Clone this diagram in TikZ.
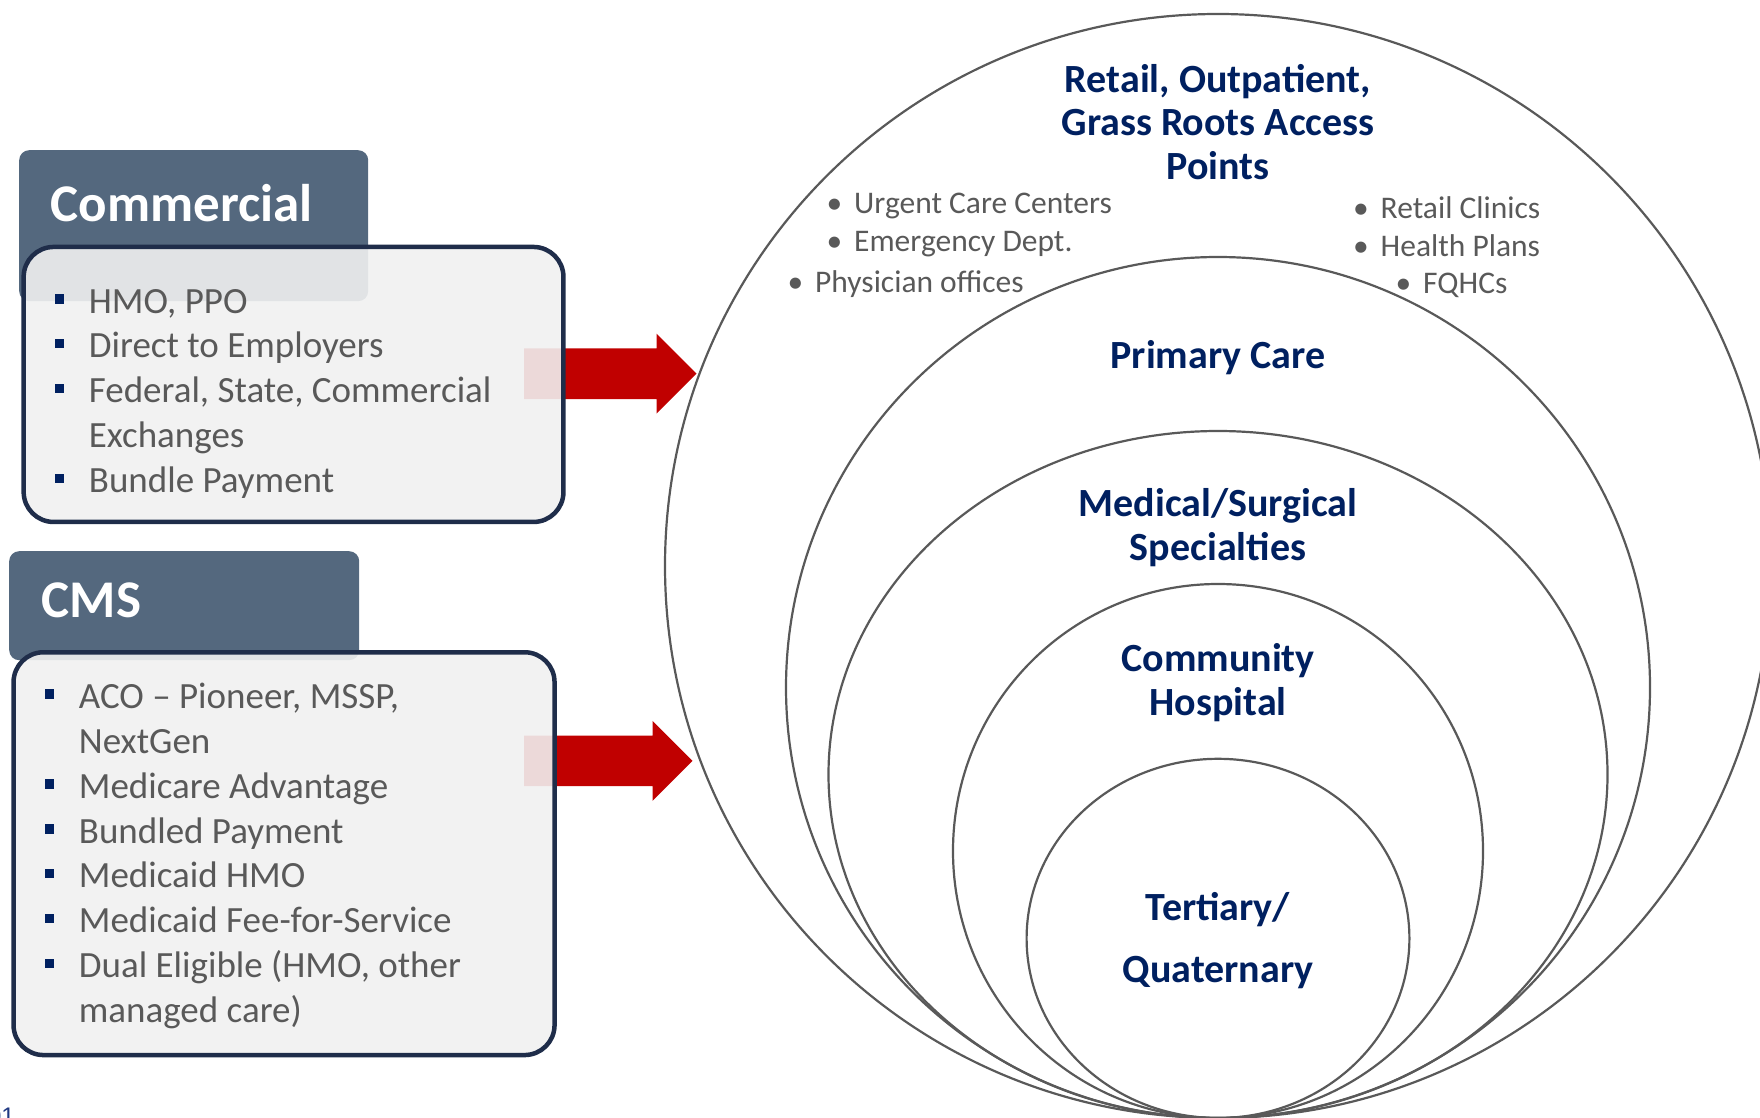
\documentclass[tikz,border=0pt]{standalone}
\usepackage{fontspec}
\setmainfont{Carlito}
\newfontfamily\arialfont{Liberation Sans}
\usetikzlibrary{calc}
\definecolor{tabblue}{RGB}{84,104,126}
\definecolor{boxline}{RGB}{31,45,74}
\definecolor{boxfill}{RGB}{241,241,241}
\definecolor{bodygray}{RGB}{89,89,89}
\definecolor{navy}{RGB}{0,32,96}
\definecolor{arrowred}{RGB}{192,0,0}
\definecolor{ringgray}{RGB}{89,89,89}
\definecolor{pageblue}{RGB}{31,56,130}

\newcommand\sqbul{\makebox[34pt][l]{\textcolor{navy}{\rule[9.5pt]{9.5pt}{9.5pt}}}}
\newcommand\rdot{\llap{\textbullet\hspace{12pt}}}
\newcommand\bigarrow[2]{%
  \fill[arrowred] ($(#1)+(0,-25.3)$) -- ($(#2)+(-40,-25.3)$) -- ($(#2)+(-40,-40)$) -- (#2)
    -- ($(#2)+(-40,40)$) -- ($(#2)+(-40,25.3)$) -- ($(#1)+(0,25.3)$) -- cycle;}

\tikzset{
  tabbox/.style={fill=tabblue, rounded corners=10pt, inner sep=0pt, anchor=north west},
  listbox/.style={draw=boxline, line width=4.5pt, fill=boxfill, fill opacity=0.9, rounded corners=30pt, inner sep=0pt, anchor=north west},
  tabtitle/.style={anchor=base west, inner sep=0pt, text=white, font=\fontsize{53}{58}\selectfont\bfseries},
  listline/.style={anchor=base west, inner sep=0pt, text=bodygray, font=\fontsize{37}{44}\selectfont},
  ring/.style={draw=ringgray, line width=2.2pt},
  levellabel/.style={anchor=base, inner sep=0pt, text=navy, font=\fontsize{40}{43}\selectfont\bfseries},
  pointline/.style={anchor=base west, inner sep=0pt, text=bodygray, font=\fontsize{31.5}{36}\selectfont},
}

\begin{document}
\begin{tikzpicture}[x=1pt,y=-1pt]
\useasboundingbox (0,0) rectangle (1760,1118);
\clip (0,0) rectangle (1760,1118);

% nested care levels
\draw[ring] (1218,566) ellipse [x radius=553pt, y radius=552pt];
\draw[ring] (1218,687.5) ellipse [x radius=432pt, y radius=430.5pt];
\draw[ring] (1218,774.5) ellipse [x radius=389.5pt, y radius=343.5pt];
\draw[ring] (1218,851) ellipse [x radius=265pt, y radius=267pt];
\draw[ring] (1218,938.4) ellipse [x radius=191.4pt, y radius=179.6pt];

% tabs
\node[tabbox, minimum width=349pt, minimum height=151pt] (comtab) at (19,150) {};
\node[tabbox, minimum width=350pt, minimum height=109pt] (cmstab) at (9,551) {};

% arrows
\coordinate (a1s) at (524,373.7);
\coordinate (a1t) at (696.5,373.7);
\coordinate (a2s) at (524,760.8);
\coordinate (a2t) at (692.5,760.8);
\bigarrow{a1s}{a1t}
\bigarrow{a2s}{a2t}

% boxes
\node[listbox, minimum width=539.8pt, minimum height=275pt] (combox) at (21.4,244.7) {};
\node[listbox, minimum width=541pt, minimum height=402.8pt] (cmsbox) at (11.3,650) {};

% titles
\node[tabtitle] (comt) at (50.5,221) {Commercial};
\node[tabtitle] (cmst) at (41.5,617.5) {CMS};

% commercial list
\node[listline] (c1) at (54.7,313) {\sqbul HMO, PPO};
\node[listline] (c2) at (54.7,357.9) {\sqbul Direct to Employers};
\node[listline] (c3) at (54.7,402.8) {\sqbul Federal, State, Commercial};
\node[listline] (c4) at (54.7,447.7) {\hspace*{34pt}Exchanges};
\node[listline] (c5) at (54.7,492.6) {\sqbul Bundle Payment};

% CMS list
\node[listline] (m1) at (44.7,708.3) {\sqbul ACO -- Pioneer, MSSP,};
\node[listline] (m2) at (44.7,753.2) {\hspace*{34pt}NextGen};
\node[listline] (m3) at (44.7,798.1) {\sqbul Medicare Advantage};
\node[listline] (m4) at (44.7,843.0) {\sqbul Bundled Payment};
\node[listline] (m5) at (44.7,887.9) {\sqbul Medicaid HMO};
\node[listline] (m6) at (44.7,932.8) {\sqbul Medicaid Fee-for-Service};
\node[listline] (m7) at (44.7,977.7) {\sqbul Dual Eligible (HMO, other};
\node[listline] (m8) at (44.7,1022.6) {\hspace*{34pt}managed care)};

% level labels
\node[levellabel] (r1) at (1218,93) {Retail, Outpatient,};
\node[levellabel] (r2) at (1218,136) {Grass Roots Access};
\node[levellabel] (r3) at (1218,179) {Points};
\node[levellabel] (pc) at (1218,368) {Primary Care};
\node[levellabel] (ms1) at (1218,516) {Medical/Surgical};
\node[levellabel] (ms2) at (1218,560) {Specialties};
\node[levellabel] (ch1) at (1218,671) {Community};
\node[levellabel] (ch2) at (1218,715) {Hospital};
\node[levellabel] (tq1) at (1218,920) {Tertiary/};
\node[levellabel] (tq2) at (1218,982) {Quaternary};

% access points
\node[pointline] (p1) at (854,213) {\rdot Urgent Care Centers};
\node[pointline] (p2) at (854,251) {\rdot Emergency Dept.};
\node[pointline] (p3) at (815,292) {\rdot Physician offices};
\node[pointline] (p4) at (1380.5,218) {\rdot Retail Clinics};
\node[pointline] (p5) at (1380.5,256) {\rdot Health Plans};
\node[pointline] (p6) at (1423,293) {\rdot FQHCs};

% page number fragment
\node[anchor=base east, inner sep=0pt, text=pageblue, font=\arialfont\fontsize{24}{26}\selectfont] (pg) at (15,1124) {01};
\end{tikzpicture}
\end{document}
